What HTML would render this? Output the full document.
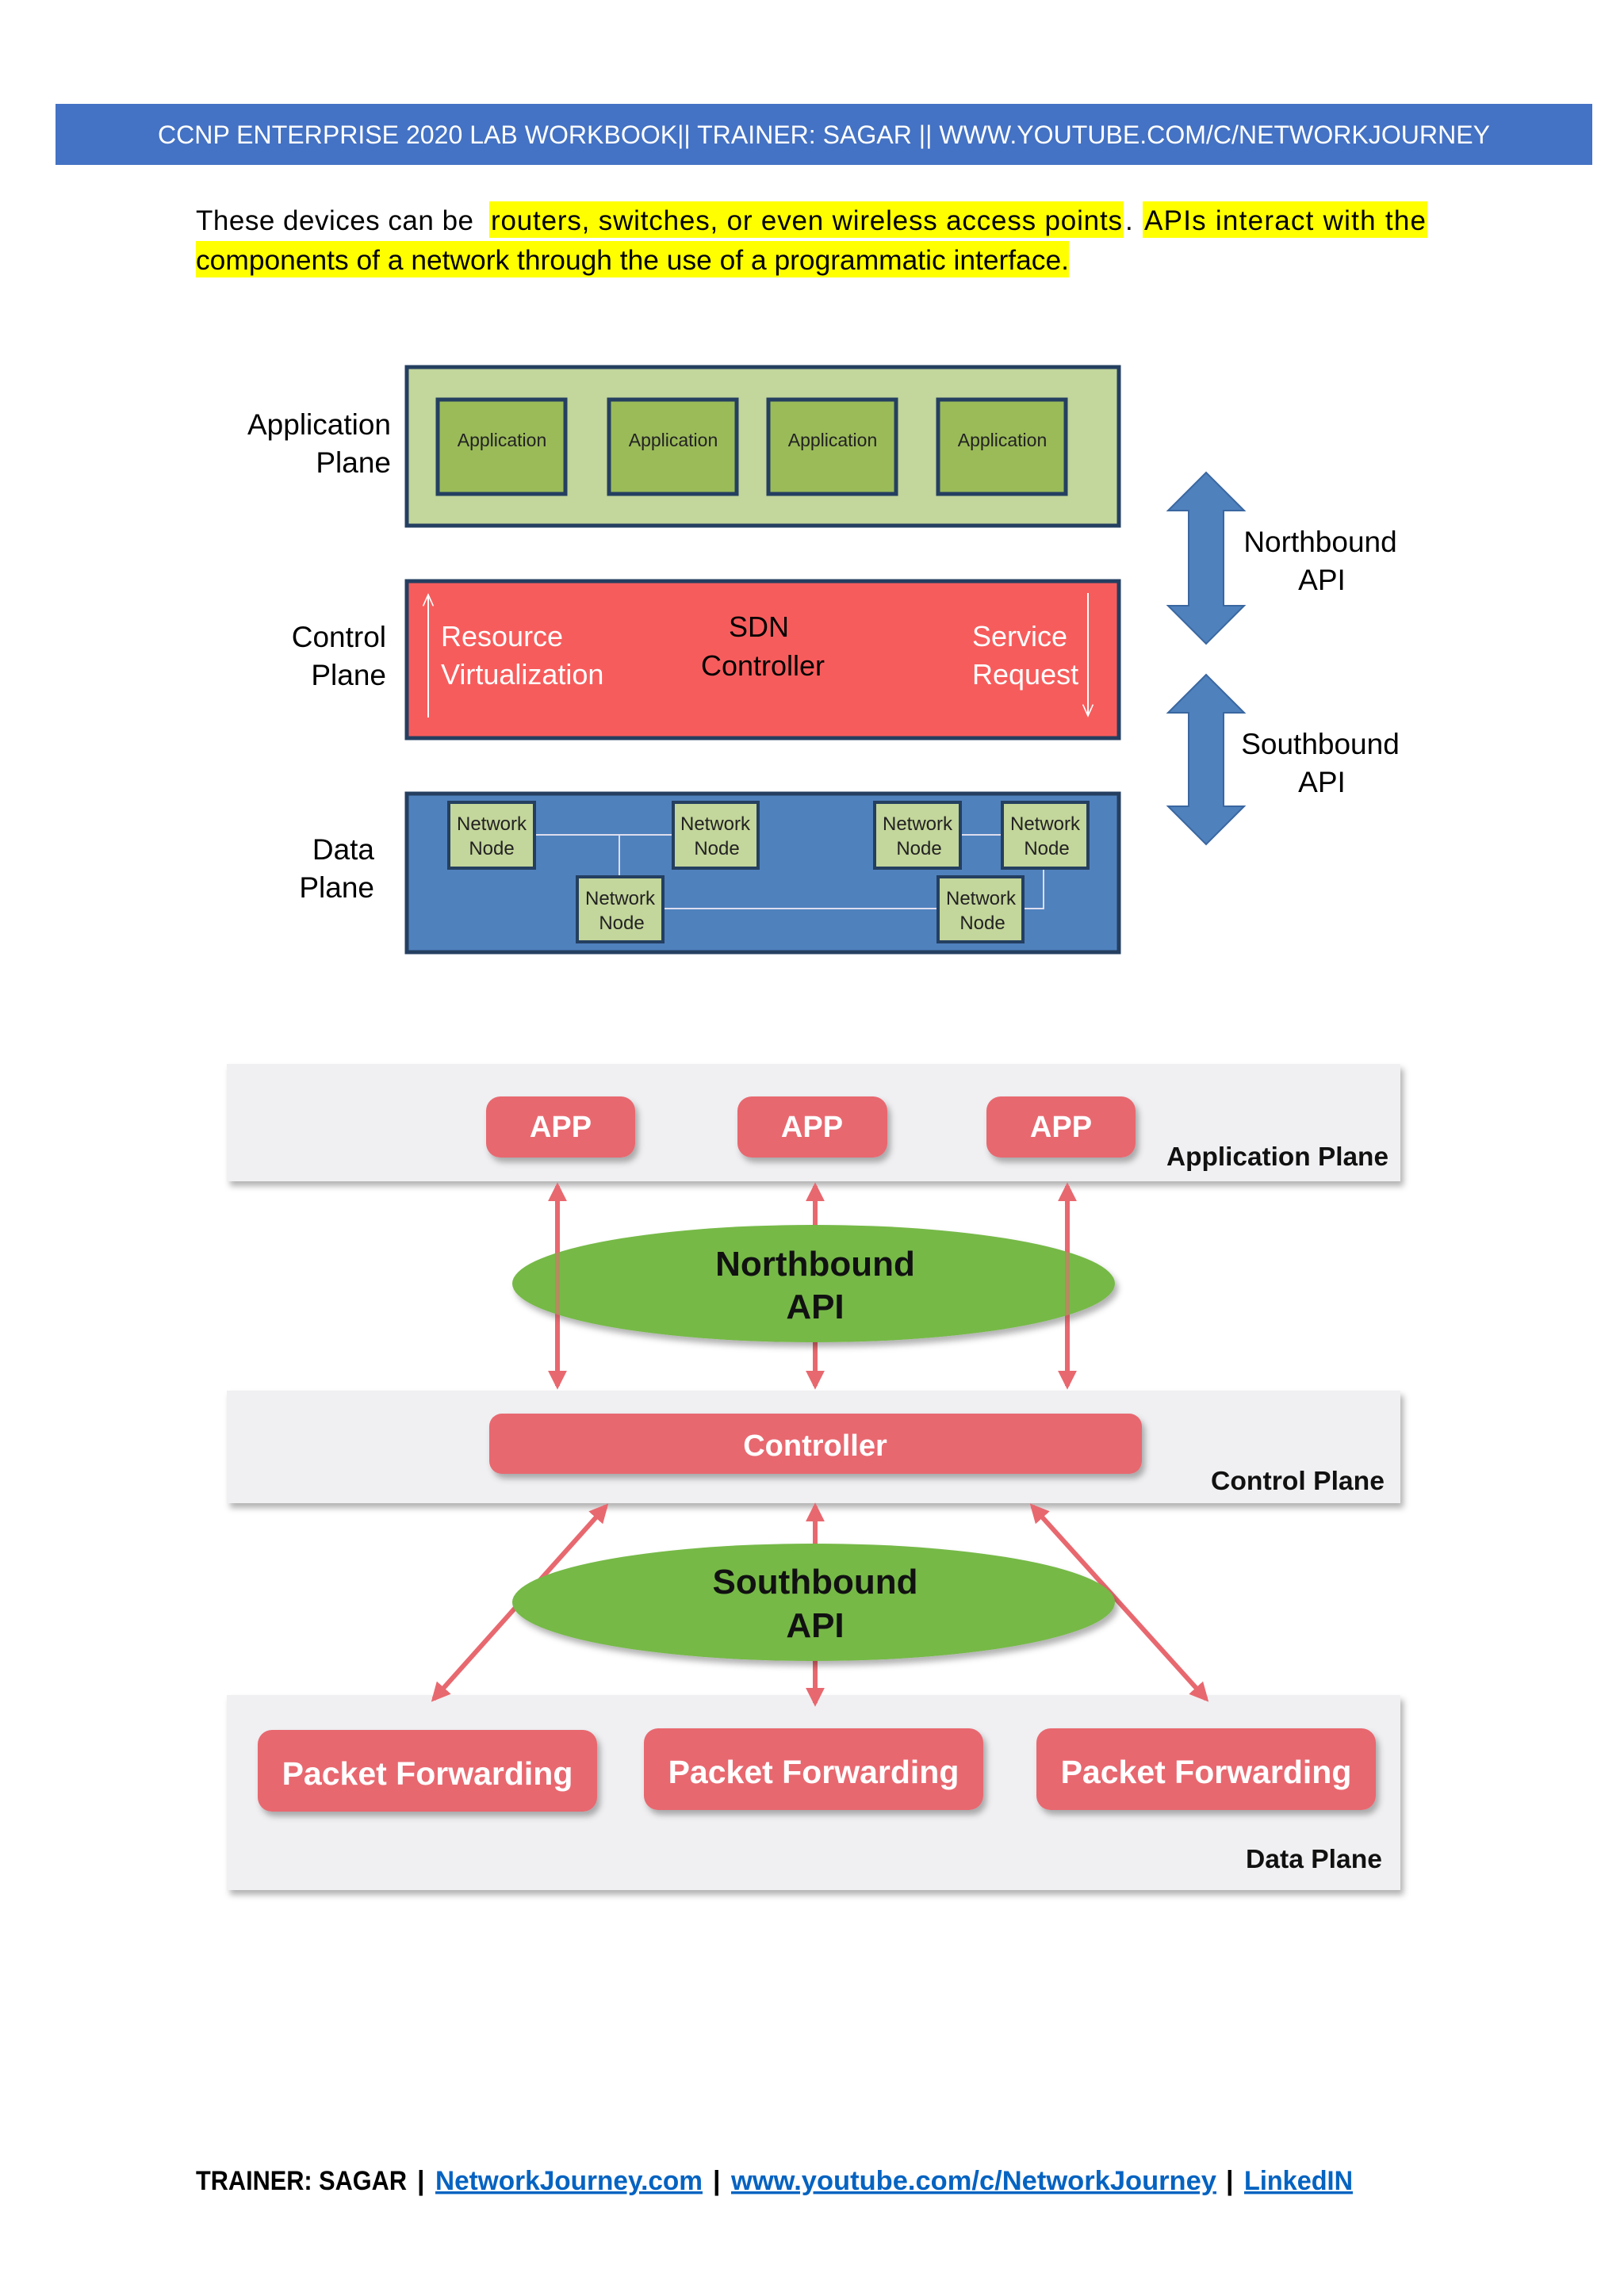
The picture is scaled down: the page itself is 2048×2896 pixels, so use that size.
<!DOCTYPE html>
<html><head><meta charset="utf-8"><style>
html,body{margin:0;padding:0;background:#fff}
svg{display:block}
text{font-family:"Liberation Sans",sans-serif}
</style></head><body>
<svg width="2048" height="2896" viewBox="0 0 2048 2896" xmlns="http://www.w3.org/2000/svg">
<defs>
<filter id="sh" x="-10%" y="-10%" width="130%" height="140%"><feDropShadow dx="4" dy="6" stdDeviation="4" flood-color="#000" flood-opacity="0.3"/></filter>
<marker id="ah" viewBox="0 0 10 10" refX="8" refY="5" markerWidth="4" markerHeight="4" orient="auto-start-reverse"><path d="M0,0 L10,5 L0,10 z" fill="#e8686f"/></marker>
<marker id="tw" viewBox="0 0 10 10" refX="9" refY="5" markerWidth="8" markerHeight="8" orient="auto"><path d="M0,1 L9,5 L0,9" fill="none" stroke="#fff" stroke-width="1"/></marker>
</defs>
<!-- header -->
<rect x="70" y="131" width="1938" height="77" fill="#4472c4"/>
<text x="1039" y="181" font-size="32" fill="#fff" text-anchor="middle" textLength="1680" lengthAdjust="spacingAndGlyphs">CCNP ENTERPRISE 2020 LAB WORKBOOK|| TRAINER: SAGAR || WWW.YOUTUBE.COM/C/NETWORKJOURNEY</text>
<!-- paragraph -->
<rect x="617" y="254" width="800" height="46" fill="#ffff00"/>
<rect x="1441" y="254" width="359" height="46" fill="#ffff00"/>
<rect x="247" y="304" width="1101" height="46" fill="#ffff00"/>
<text x="247" y="290" font-size="35" fill="#000" textLength="350" lengthAdjust="spacing">These devices can be</text>
<text x="619" y="290" font-size="35" fill="#000" textLength="796" lengthAdjust="spacing">routers, switches, or even wireless access points</text>
<text x="1419" y="290" font-size="35" fill="#000">.</text>
<text x="1443" y="290" font-size="35" fill="#000" textLength="355" lengthAdjust="spacing">APIs interact with the</text>
<text x="247" y="340" font-size="35" fill="#000" textLength="1101" lengthAdjust="spacingAndGlyphs">components of a network through the use of a programmatic interface.</text>

<!-- diagram 1 -->
<g font-size="37" fill="#000" text-anchor="end">
<text x="493" y="548">Application</text><text x="493" y="596">Plane</text>
<text x="487" y="816">Control</text><text x="487" y="864">Plane</text>
<text x="472" y="1084">Data</text><text x="472" y="1132">Plane</text>
</g>
<rect x="513" y="463" width="898" height="200" fill="#c3d69b" stroke="#243f60" stroke-width="5"/>
<g fill="#9bbb59" stroke="#243f60" stroke-width="5">
<rect x="552" y="504" width="161" height="119"/><rect x="768" y="504" width="161" height="119"/>
<rect x="969" y="504" width="161" height="119"/><rect x="1183" y="504" width="161" height="119"/>
</g>
<g font-size="23" fill="#222" text-anchor="middle">
<text x="633" y="563">Application</text><text x="849" y="563">Application</text>
<text x="1050" y="563">Application</text><text x="1264" y="563">Application</text>
</g>
<rect x="513" y="733" width="898" height="198" fill="#f75c5c" stroke="#243f60" stroke-width="5"/>
<line x1="540" y1="905" x2="540" y2="750" stroke="#fff" stroke-width="2" marker-end="url(#tw)"/>
<line x1="1372" y1="748" x2="1372" y2="903" stroke="#fff" stroke-width="2" marker-end="url(#tw)"/>
<g font-size="36" fill="#fff">
<text x="556" y="815">Resource</text><text x="556" y="863">Virtualization</text>
<text x="1226" y="815">Service</text><text x="1226" y="863">Request</text>
</g>
<g font-size="36" fill="#000" text-anchor="middle"><text x="957" y="803">SDN</text><text x="962" y="852">Controller</text></g>
<rect x="513" y="1001" width="898" height="200" fill="#4f81bd" stroke="#243f60" stroke-width="5"/>
<g stroke="#dde" stroke-width="2" fill="none">
<line x1="674" y1="1053" x2="849" y2="1053"/><line x1="781" y1="1053" x2="781" y2="1106"/>
<line x1="1211" y1="1053" x2="1263" y2="1053"/>
<line x1="836" y1="1146" x2="1183" y2="1146"/>
<polyline points="1316,1095 1316,1146 1290,1146"/>
</g>
<g fill="#c3d69b" stroke="#243f60" stroke-width="4">
<rect x="566" y="1012" width="108" height="83"/><rect x="849" y="1012" width="107" height="83"/>
<rect x="1103" y="1012" width="108" height="83"/><rect x="1264" y="1012" width="108" height="83"/>
<rect x="728" y="1106" width="108" height="82"/><rect x="1183" y="1106" width="107" height="82"/>
</g>
<g font-size="24" fill="#222" text-anchor="middle">
<text x="620" y="1047">Network</text><text x="620" y="1078">Node</text>
<text x="902" y="1047">Network</text><text x="904" y="1078">Node</text>
<text x="1157" y="1047">Network</text><text x="1159" y="1078">Node</text>
<text x="1318" y="1047">Network</text><text x="1320" y="1078">Node</text>
<text x="782" y="1141">Network</text><text x="784" y="1172">Node</text>
<text x="1237" y="1141">Network</text><text x="1239" y="1172">Node</text>
</g>
<g fill="#4f81bd" stroke="#3a67a0" stroke-width="2">
<polygon points="1521,596 1569,644 1543,644 1543,764 1569,764 1521,812 1473,764 1499,764 1499,644 1473,644"/>
<polygon points="1521,851 1569,899 1543,899 1543,1017 1569,1017 1521,1065 1473,1017 1499,1017 1499,899 1473,899"/>
</g>
<g font-size="37" fill="#000" text-anchor="middle">
<text x="1665" y="696">Northbound</text><text x="1667" y="744">API</text>
<text x="1665" y="951">Southbound</text><text x="1667" y="999">API</text>
</g>

<!-- diagram 2 -->
<g fill="#f0f0f2" filter="url(#sh)">
<rect x="286" y="1342" width="1480" height="148"/>
<rect x="286" y="1754" width="1480" height="142"/>
<rect x="286" y="2138" width="1480" height="246"/>
</g>
<g stroke="#e8686f" stroke-width="6" marker-start="url(#ah)" marker-end="url(#ah)">
<line x1="703" y1="1496" x2="703" y2="1748"/>
<line x1="1028" y1="1496" x2="1028" y2="1748"/>
<line x1="1346" y1="1496" x2="1346" y2="1748"/>
<line x1="764" y1="1900" x2="547" y2="2143"/>
<line x1="1028" y1="1900" x2="1028" y2="2148"/>
<line x1="1302" y1="1900" x2="1521" y2="2143"/>
</g>
<g fill="#76b947" filter="url(#sh)">
<ellipse cx="1026" cy="1619" rx="380" ry="74"/>
<ellipse cx="1026" cy="2021" rx="380" ry="74"/>
</g>
<g stroke="#e8686f" stroke-width="6" opacity="0.55">
<line x1="703" y1="1560" x2="703" y2="1680"/><line x1="1346" y1="1560" x2="1346" y2="1680"/>
</g>
<g font-size="44" font-weight="bold" fill="#111" text-anchor="middle">
<text x="1028" y="1609">Northbound</text><text x="1028" y="1663">API</text>
<text x="1028" y="2010">Southbound</text><text x="1028" y="2065">API</text>
</g>
<g fill="#e8686f" filter="url(#sh)">
<rect x="613" y="1383" width="188" height="77" rx="18"/>
<rect x="930" y="1383" width="189" height="77" rx="18"/>
<rect x="1244" y="1383" width="188" height="77" rx="18"/>
<rect x="617" y="1783" width="823" height="76" rx="16"/>
<rect x="325" y="2182" width="428" height="103" rx="18"/>
<rect x="812" y="2180" width="428" height="103" rx="18"/>
<rect x="1307" y="2180" width="428" height="103" rx="18"/>
</g>
<g font-weight="bold" fill="#fff" text-anchor="middle">
<text x="707" y="1434" font-size="38">APP</text>
<text x="1024" y="1434" font-size="38">APP</text>
<text x="1338" y="1434" font-size="38">APP</text>
<text x="1028" y="1836" font-size="38">Controller</text>
<text x="539" y="2251" font-size="41">Packet Forwarding</text>
<text x="1026" y="2249" font-size="41">Packet Forwarding</text>
<text x="1521" y="2249" font-size="41">Packet Forwarding</text>
</g>
<g font-weight="bold" fill="#111" font-size="33">
<text x="1471" y="1470" textLength="280" lengthAdjust="spacingAndGlyphs">Application Plane</text>
<text x="1527" y="1879" textLength="219" lengthAdjust="spacingAndGlyphs">Control Plane</text>
<text x="1571" y="2356" textLength="172" lengthAdjust="spacingAndGlyphs">Data Plane</text>
</g>

<!-- footer -->
<g font-size="34" font-weight="bold">
<text x="247" y="2762" fill="#000" textLength="266" lengthAdjust="spacingAndGlyphs">TRAINER: SAGAR</text>
<text x="526" y="2762" fill="#000">|</text>
<text x="549" y="2762" fill="#0563c1" text-decoration="underline" textLength="337" lengthAdjust="spacingAndGlyphs">NetworkJourney.com</text>
<text x="899" y="2762" fill="#000">|</text>
<text x="922" y="2762" fill="#0563c1" text-decoration="underline" textLength="612" lengthAdjust="spacingAndGlyphs">www.youtube.com/c/NetworkJourney</text>
<text x="1546" y="2762" fill="#000">|</text>
<text x="1569" y="2762" fill="#0563c1" text-decoration="underline" textLength="137" lengthAdjust="spacingAndGlyphs">LinkedIN</text>
</g>
</svg>
</body></html>
